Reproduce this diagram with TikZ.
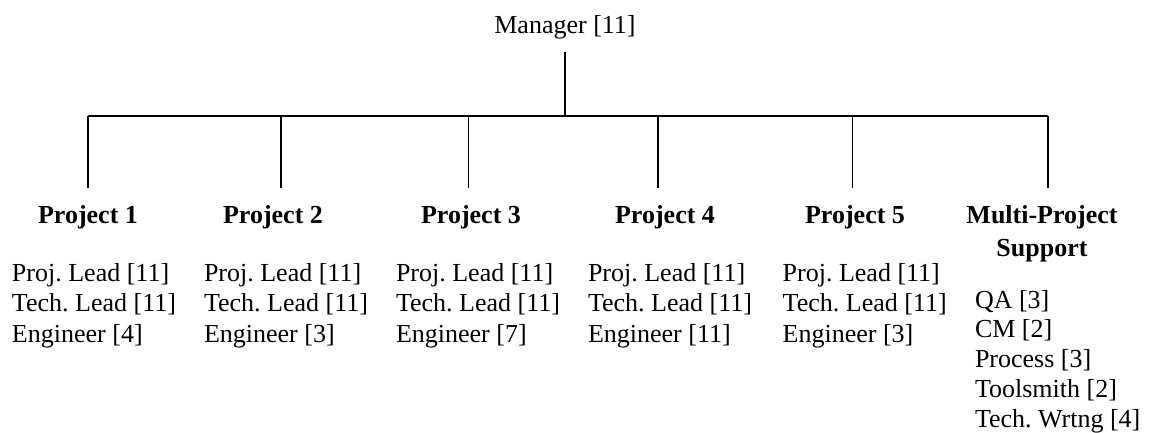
\documentclass[tikz,border=0pt]{standalone}
\usepackage{fontspec}
\setmainfont{Liberation Serif}
\frenchspacing
\begin{document}
\begin{tikzpicture}[x=1pt,y=-1pt,
  every node/.style={inner sep=0pt,outer sep=0pt,font=\fontsize{26}{30}\selectfont},
  head/.style={anchor=base,font=\fontsize{26}{30}\selectfont\bfseries},
  item/.style={anchor=base west},
  wire/.style={line width=1.1pt},
  bar/.style={line width=2pt}]
\useasboundingbox (0,0) rectangle (1150,432);

% top of the chart
\node[anchor=base] (mgr) at (565,33) {Manager [11]};

% project headings
\node[head] (p1) at (88,223) {Project 1};
\node[head] (p2) at (273,223) {Project 2};
\node[head] (p3) at (471,223) {Project 3};
\node[head] (p4) at (665,223) {Project 4};
\node[head] (p5) at (855,223) {Project 5};
\node[head] (p6) at (1042,223) {Multi-Project};
\node[head] (p6b) at (1042,256) {Support};

% branch points on the horizontal bar
\coordinate (bus) at (565,116);
\coordinate (b1) at (88,116);
\coordinate (b2) at (281,116);
\coordinate (b3) at (468.5,116);
\coordinate (b4) at (658,116);
\coordinate (b5) at (852.5,116);
\coordinate (b6) at (1048,116);

\draw[wire] ([yshift=-13pt]mgr.south) -- (bus);
\draw[bar] (b1) -- (b6);
\foreach \i in {1,...,6}
  \draw[wire,shorten >=17pt] (b\i) -- (b\i |- p\i.north);

% staff of each project
\foreach \c/\x/\e in {1/12/4, 2/204/3, 3/396/7, 4/588/11, 5/782.7/3} {
  \node[item] (c\c a) at (\x,281) {Proj. Lead [11]};
  \node[item] (c\c b) at (\x,311.5) {Tech. Lead [11]};
  \node[item] (c\c c) at (\x,342) {Engineer [\e]};
}

% shared support staff
\foreach \t [count=\k from 0] in {QA [3], CM [2], Process [3], Toolsmith [2], Tech. Wrtng [4]}
  \node[item] (s\k) at (975,308+29.8*\k) {\t};
\end{tikzpicture}
\end{document}
